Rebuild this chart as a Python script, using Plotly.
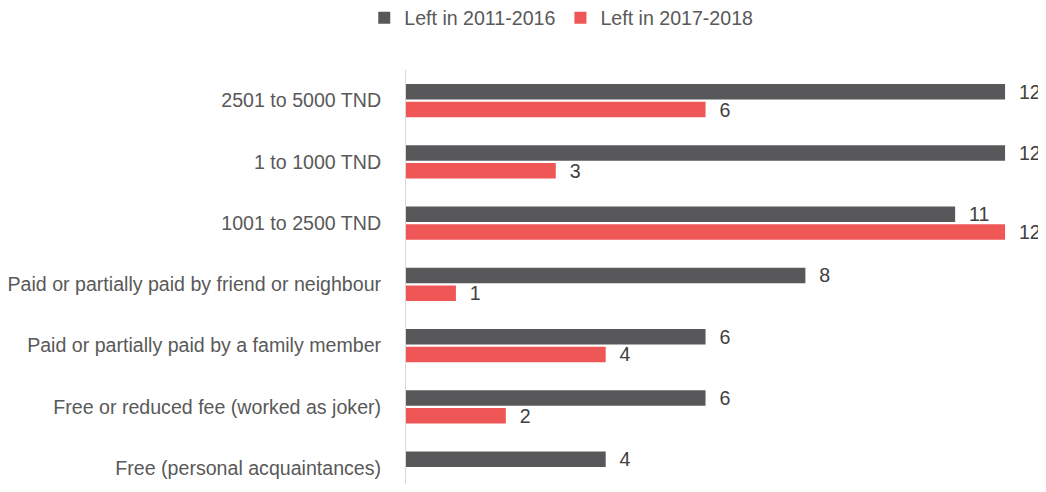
import plotly.graph_objects as go

categories = [
    "2501 to 5000 TND",
    "1 to 1000 TND",
    "1001 to 2500 TND",
    "Paid or partially paid by friend or neighbour",
    "Paid or partially paid by a family member",
    "Free or reduced fee (worked as joker)",
    "Free (personal acquaintances)",
]
series_names = ["Left in 2011-2016", "Left in 2017-2018"]
left_2011_2016 = [12, 12, 11, 8, 6, 6, 4]
left_2017_2018 = [6, 3, 12, 1, 4, 2, None]

colors = ["#58585A", "#EF5757"]
FONT = "Liberation Sans, Arial, sans-serif"
FS = 19.6

fig = go.Figure()
for name, vals, col in zip(series_names, [left_2011_2016, left_2017_2018], colors):
    fig.add_trace(go.Bar(
        y=categories, x=vals, name=name, orientation="h",
        marker=dict(color=col, line=dict(width=0)),
        text=[("" if v is None else str(v)) for v in vals],
        texttemplate="  %{text}",
        textposition="outside",
        constraintext="none",
        textfont=dict(family=FONT, size=FS, color="#404040"),
        cliponaxis=False,
    ))

# page body has an 8px margin, so the figure is drawn at (8, 8)
fig.update_layout(
    width=1038, height=476,
    margin=dict(l=398, r=0, t=62, b=0, autoexpand=False),
    paper_bgcolor="white", plot_bgcolor="white",
    barmode="group", bargap=0.42, bargroupgap=0.13,
    font=dict(family=FONT, size=FS, color="#595959"),
    legend=dict(orientation="h", x=0.533, xref="container", xanchor="center",
                y=0.979, yref="container", yanchor="middle",
                font=dict(family=FONT, size=FS, color="#595959"),
                itemwidth=30, traceorder="normal"),
    xaxis=dict(range=[0, 12.82], showgrid=False, zeroline=False, showticklabels=False,
               showline=False, automargin=False),
    yaxis=dict(categoryorder="array", categoryarray=categories,
               range=[6.26, -0.5], showgrid=False, zeroline=False,
               showline=True, linecolor="#D9D9D9", linewidth=1,
               ticks="", ticklabelstandoff=20, automargin=False,
               tickfont=dict(family=FONT, size=FS, color="#595959")),
)

fig.write_html("out.html")
